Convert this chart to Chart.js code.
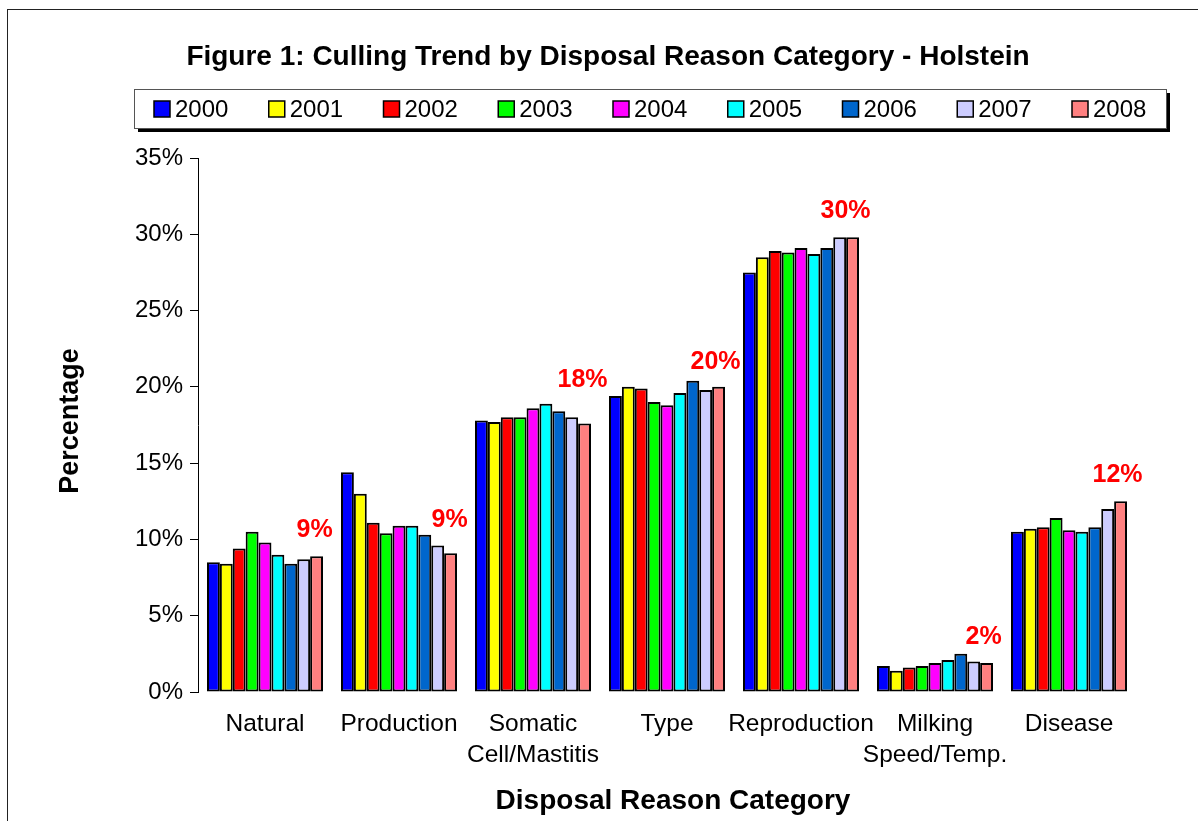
<!DOCTYPE html>
<html>
<head>
<meta charset="utf-8">
<title>Culling Trend by Disposal Reason Category - Holstein</title>
<script src="https://cdn.jsdelivr.net/npm/chart.js@4.4.1/dist/chart.umd.min.js"></script>
<style>
    body { margin: 0; background: #fff; }
    #wrap { width: 1198px; height: 821px; }
</style>
</head>
<body>
<div id="wrap"><canvas id="chart" width="1198" height="821"></canvas></div>
<script>
// =====================================
// DATA
// =====================================
const CATEGORIES = [
    "Natural",
    "Production",
    ["Somatic", "Cell/Mastitis"],
    "Type",
    "Reproduction",
    ["Milking", "Speed/Temp."],
    "Disease"
];

const YEARS = ["2000", "2001", "2002", "2003", "2004", "2005", "2006", "2007", "2008"];

// percent of disposals per category
const Y2000 = [8.5, 14.4, 17.8, 19.4, 27.5, 1.7, 10.5];
const Y2001 = [8.4, 13.0, 17.7, 20.0, 28.5, 1.4, 10.7];
const Y2002 = [9.4, 11.1, 18.0, 19.9, 28.9, 1.6, 10.8];
const Y2003 = [10.5, 10.4, 18.0, 19.0, 28.8, 1.7, 11.4];
const Y2004 = [9.8, 10.9, 18.6, 18.8, 29.1, 1.9, 10.6];
const Y2005 = [9.0, 10.9, 18.9, 19.6, 28.7, 2.1, 10.5];
const Y2006 = [8.4, 10.3, 18.4, 20.4, 29.1, 2.5, 10.8];
const Y2007 = [8.7, 9.6, 18.0, 19.8, 29.8, 2.0, 12.0];
const Y2008 = [8.9, 9.1, 17.6, 20.0, 29.8, 1.9, 12.5];

// rounded 2008 values printed over each group
const CALLOUTS = ["9%", "9%", "18%", "20%", "30%", "2%", "12%"];

const Y_TICKS_MAX = 35;
const Y_TICKS_STEP = 5;

// =====================================
// STYLE
// =====================================
const FONT = "'Liberation Sans', Arial, Helvetica, sans-serif";

const COLORS = [
    "#0000ff",  // 2000
    "#ffff00",  // 2001
    "#ff0000",  // 2002
    "#00ff00",  // 2003
    "#ff00ff",  // 2004
    "#00ffff",  // 2005
    "#0066cc",  // 2006
    "#ccccff",  // 2007
    "#ff8080"   // 2008
];

const SERIES = [Y2000, Y2001, Y2002, Y2003, Y2004, Y2005, Y2006, Y2007, Y2008];

// =====================================
// DECORATION PLUGIN (frame, title, legend, axis titles, callouts)
// =====================================
const decorations = {
    id: "decorations",

    beforeDraw(chart) {
        const ctx = chart.ctx;
        ctx.save();
        ctx.fillStyle = "#fff";
        ctx.fillRect(0, 0, chart.width, chart.height);
        ctx.strokeStyle = "#222";
        ctx.lineWidth = 1;
        ctx.strokeRect(7.5, 9.5, 1202, 830);
        ctx.restore();
    },

    afterDraw(chart) {
        const ctx = chart.ctx;
        const area = chart.chartArea;
        ctx.save();

        // title
        ctx.fillStyle = "#000";
        ctx.textAlign = "center";
        ctx.textBaseline = "middle";
        ctx.font = "bold 28px " + FONT;
        ctx.fillText("Figure 1: Culling Trend by Disposal Reason Category - Holstein", 608, 57);

        // legend box with drop shadow
        const lx = 134, ly = 89, lw = 1032, lh = 39;
        ctx.fillStyle = "#000";
        ctx.fillRect(lx + 4, ly + 4, lw, lh);
        ctx.fillStyle = "#fff";
        ctx.fillRect(lx, ly, lw, lh);
        ctx.strokeStyle = "#555";
        ctx.lineWidth = 1;
        ctx.strokeRect(lx + 0.5, ly + 0.5, lw, lh);

        ctx.font = "24px " + FONT;
        ctx.textAlign = "left";
        chart.data.datasets.forEach((ds, i) => {
            const x = 154 + i * 114.75;
            ctx.fillStyle = ds.backgroundColor;
            ctx.fillRect(x, 101, 16, 16);
            ctx.strokeStyle = "#000";
            ctx.lineWidth = 1.5;
            ctx.strokeRect(x, 101, 16, 16);
            ctx.fillStyle = "#000";
            ctx.fillText(ds.label, x + 21, 110);
        });

        // axis titles
        ctx.font = "bold 28px " + FONT;
        ctx.textAlign = "center";
        ctx.fillText("Disposal Reason Category", (area.left + area.right) / 2 + 6, 801);

        ctx.save();
        ctx.translate(71, 421);
        ctx.rotate(-Math.PI / 2);
        ctx.font = "bold 27px " + FONT;
        ctx.fillText("Percentage", 0, 0);
        ctx.restore();

        // red callouts above the 2008 bars
        const last = chart.getDatasetMeta(chart.data.datasets.length - 1);
        const lift = [26, 33, 43, 25, 26, 26, 26];
        const shift = [-2, -1, -2, -3, -7, -3, -3];
        ctx.fillStyle = "#ff0000";
        ctx.font = "bold 25px " + FONT;
        last.data.forEach((bar, i) => {
            ctx.fillText(CALLOUTS[i], bar.x + shift[i], bar.y - lift[i]);
        });

        ctx.restore();
    }
};

// =====================================
// CHART
// =====================================
Chart.defaults.font.family = FONT;
Chart.defaults.color = "#000";

const ctx = document.getElementById("chart").getContext("2d");

new Chart(ctx, {
    type: "bar",
    data: {
        labels: CATEGORIES,
        datasets: SERIES.map((values, i) => ({
            label: YEARS[i],
            data: values,
            backgroundColor: COLORS[i],
            borderColor: "#000",
            borderWidth: 2,
            borderSkipped: false,
            categoryPercentage: 0.866,
            barPercentage: 1.0
        }))
    },
    options: {
        responsive: false,
        animation: false,
        devicePixelRatio: 1,
        layout: {
            padding: { left: 98, right: 62, top: 158, bottom: 0 }
        },
        plugins: {
            legend: { display: false },
            title: { display: false },
            tooltip: { enabled: false }
        },
        scales: {
            x: {
                grid: { display: false, drawTicks: false, tickLength: 0 },
                border: { display: false },
                ticks: {
                    font: { size: 24.5, lineHeight: 1.27 },
                    color: "#000",
                    padding: 17,
                    maxRotation: 0,
                    autoSkip: false
                },
                afterFit(scale) { scale.height = 129; }
            },
            y: {
                min: 0,
                max: Y_TICKS_MAX,
                grid: {
                    drawOnChartArea: false,
                    drawTicks: true,
                    tickLength: 8,
                    tickColor: "#000"
                },
                border: { display: true, color: "#000", width: 1 },
                ticks: {
                    stepSize: Y_TICKS_STEP,
                    font: { size: 24 },
                    color: "#000",
                    padding: 7,
                    callback: v => v + "%"
                },
                afterFit(scale) { scale.width = 100; }
            }
        }
    },
    plugins: [decorations]
});
</script>
</body>
</html>
